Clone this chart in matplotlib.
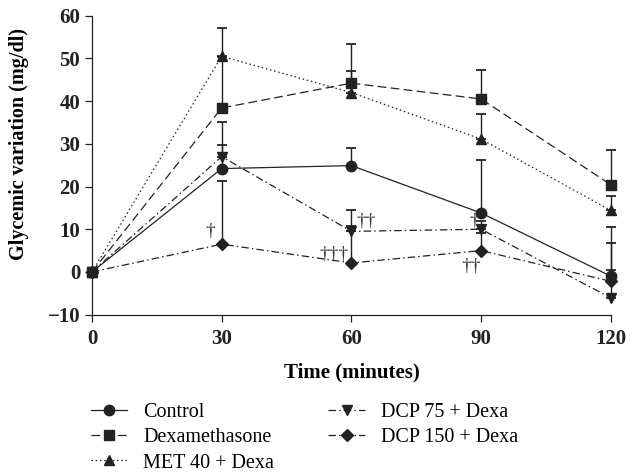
import matplotlib
matplotlib.use('Agg')
import matplotlib.pyplot as plt
import numpy as np

plt.rcParams['font.family'] = 'Liberation Serif'

tempo = [0, 30, 60, 90, 120]

controle = [0, 24.2, 24.9, 13.8, -1.0]
controle_err = [0, 5.6, 4.1, 12.3, 11.5]
dexa = [0, 38.4, 44.2, 40.5, 20.4]
dexa_err = [0, 12.0, 9.2, 6.9, 8.2]
met40 = [0, 50.5, 42.0, 31.1, 14.4]
met40_err = [0, 6.6, 5.0, 5.9, 3.3]
dcp75 = [0, 27.0, 9.5, 10.0, -6.1]
dcp75_err = [0, 8.2, 5.1, 2.0, 6.5]
dcp150 = [0, 6.5, 2.1, 5.0, -2.2]
dcp150_err = [0, 14.9, 8.6, 4.0, 9.0]

rotulos = ['Control', 'Dexamethasone', 'MET 40 + Dexa', 'DCP 75 + Dexa', 'DCP 150 + Dexa']

# simbolos de significancia (x, y, texto)
adagas = [(27.4, 9.5, '\u2020'), (55.9, 4.3, '\u2020\u2020\u2020'), (63.3, 12.0, '\u2020\u2020'),
          (88.3, 12.0, '\u2020'), (87.7, 1.5, '\u2020\u2020')]

fig = plt.figure(figsize=(6.37, 4.76), dpi=100)
ax = fig.add_axes([0.1444, 0.339, 0.959 - 0.1444, 0.967 - 0.339])

series = [
    (controle, controle_err, 'o', '-', rotulos[0]),
    (dexa, dexa_err, 's', (0, (7, 3.5)), rotulos[1]),
    (met40, met40_err, '^', (0, (1.2, 2.2)), rotulos[2]),
    (dcp75, dcp75_err, 'v', (0, (6, 2.5, 1.2, 2.5)), rotulos[3]),
    (dcp150, dcp150_err, 'D', (0, (6, 2.5, 1.2, 2.5)), rotulos[4]),
]

linhas = []
for y, e, m, ls, lab in series:
    ax.errorbar(tempo, y, yerr=[np.zeros(len(e)), e], fmt='none', ecolor='#222222',
                elinewidth=1.0, capsize=3.5, capthick=1.3, clip_on=False)
    ms = 6 if m == 'D' else 7.5
    if m == 's':
        ms = 7
    l, = ax.plot(tempo, y, color='#222222', marker=m, markersize=ms, linestyle=ls,
                 linewidth=0.9, label=lab, clip_on=False, zorder=3)
    linhas.append(l)

for x, y, t in adagas:
    ax.text(x, y, t, ha='center', va='center', fontsize=14, color='#333333')

ax.set_xlim(0, 120)
ax.set_ylim(-10, 60)
ax.set_xticks(tempo)
ax.set_yticks(range(-10, 61, 10))
ax.set_yticklabels(['\u221210'] + [str(v) for v in range(0, 61, 10)])
for lab in ax.get_xticklabels() + ax.get_yticklabels():
    lab.set_fontweight('bold')
    lab.set_fontsize(15)
ax.tick_params(direction='out', length=5, width=0.9, colors='#222222')
ax.tick_params(axis='x', pad=5)
ax.spines['top'].set_visible(False)
ax.spines['right'].set_visible(False)
for s in ['left', 'bottom']:
    ax.spines[s].set_linewidth(0.9)
    ax.spines[s].set_color('#222222')

ax.set_xlabel('Time (minutes)', fontsize=15, fontweight='bold', labelpad=10)
ax.set_ylabel('Glycemic variation (mg/dl)', fontsize=14.5, fontweight='bold')
ax.yaxis.set_label_coords(-0.122, 40 / 70)

fig.legend(handles=linhas, loc='upper left', bbox_to_anchor=(0.13, 0.17),
           ncol=2, frameon=False, fontsize=14.5, handlelength=1.8, handletextpad=0.8,
           columnspacing=2.7, labelspacing=0.3, borderaxespad=0)

fig.savefig('out.png', dpi=100)
